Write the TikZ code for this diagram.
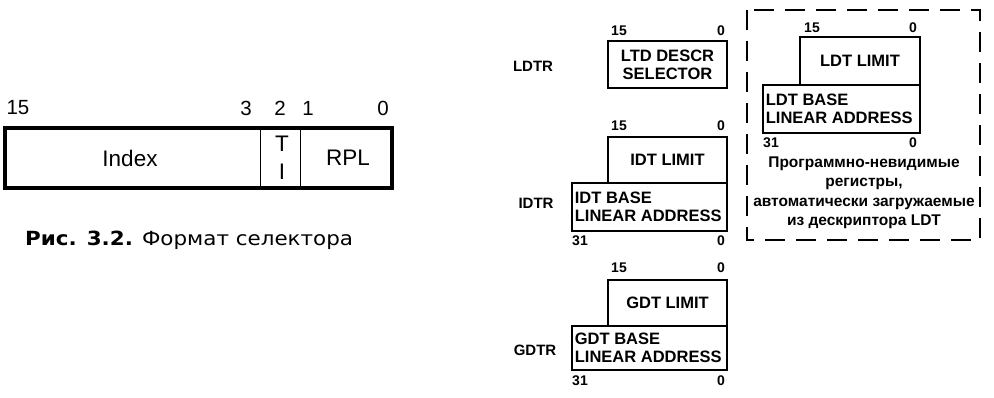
\documentclass[tikz,border=0pt]{standalone}
\usepackage{fontspec}
\setmainfont{Liberation Sans}
\newfontfamily\capfont[FakeStretch=1.1]{DejaVu Sans}
\begin{document}
\begin{tikzpicture}[x=1pt,y=-1pt,
  selbox/.style={draw, line width=3.5pt, inner sep=0pt, minimum width=387pt, minimum height=60pt},
  regbox/.style={draw, line width=2.6pt, inner sep=0pt},
  cell/.style={draw, line width=0.9pt},
  bignum/.style={font=\fontsize{20.5}{20.5}\selectfont, inner sep=0pt},
  bigtxt/.style={font=\fontsize{22.5}{22.5}\selectfont, inner sep=0pt},
  bitnum/.style={font=\fontsize{14}{14}\selectfont\bfseries, inner sep=0pt},
  regtxt/.style={font=\fontsize{16.5}{18}\selectfont\bfseries, align=center, inner sep=0pt},
  basetxt/.style={font=\fontsize{16.5}{17.5}\selectfont\bfseries, align=left, inner sep=0pt, anchor=west},
  reglabel/.style={font=\fontsize{15}{15}\selectfont\bfseries, inner sep=0pt},
  dashframe/.style={draw, line width=2.8pt, dash pattern=on 20pt off 11pt},
  note/.style={font=\fontsize{15.5}{19.5}\selectfont\bfseries, align=center, inner sep=0pt}]
\useasboundingbox (0,0) rectangle (994,397);

% ---------- selector format ----------
\node[selbox] (sel) at (198.5,158) {};
\draw[cell] ([xshift=257pt]sel.north west) -- ([xshift=257pt]sel.south west);
\draw[cell] ([xshift=297pt]sel.north west) -- ([xshift=297pt]sel.south west);
\node[bigtxt] (idx) at (130,158) {Index};
\node[bigtxt] (tt) at (282,144) {T};
\node[bigtxt] (ti) at (282,172) {I};
\node[bigtxt] (rpl) at (348,158) {RPL};
\node[bignum] (b15) at (18,108) {15};
\node[bignum] (b3) at (246,108) {3};
\node[bignum] (b2) at (280,108) {2};
\node[bignum] (b1) at (308,108) {1};
\node[bignum] (b0) at (383,108) {0};
\node[inner sep=0pt, anchor=west, font=\fontsize{19.5}{19.5}\selectfont\capfont] (cap) at (25,240)
  {{\bfseries Рис. 3.2.} Формат селектора};

% ---------- LDTR ----------
\node[reglabel] (ldtr) at (533,66) {LDTR};
\node[regbox, minimum width=119pt, minimum height=47pt, regtxt] (ldtrsel) at (667.5,64.5) {LTD DESCR\\SELECTOR};
\node[bitnum] (l15) at (619,31) {15};
\node[bitnum] (l0) at (721,31) {0};

% ---------- IDTR ----------
\node[reglabel] (idtr) at (536,203) {IDTR};
\node[regbox, minimum width=119pt, minimum height=46pt, regtxt] (idtlim) at (667.5,160) {IDT LIMIT};
\node[regbox, minimum width=155pt, minimum height=48pt] (idtbase) at (649.5,207) {};
\node[basetxt] (idtbt) at ([xshift=4pt]idtbase.west) {IDT BASE\\LINEAR ADDRESS};
\node[bitnum] (i15) at (619,126) {15};
\node[bitnum] (i0) at (721,126) {0};
\node[bitnum] (i31) at (580,241) {31};
\node[bitnum] (i0b) at (721,241) {0};

% ---------- GDTR ----------
\node[reglabel] (gdtr) at (535,350) {GDTR};
\node[regbox, minimum width=119pt, minimum height=46pt, regtxt] (gdtlim) at (667.5,303) {GDT LIMIT};
\node[regbox, minimum width=155pt, minimum height=44pt] (gdtbase) at (649.5,348) {};
\node[basetxt] (gdtbt) at ([xshift=4pt]gdtbase.west) {GDT BASE\\LINEAR ADDRESS};
\node[bitnum] (g15) at (619,268) {15};
\node[bitnum] (g0) at (721,268) {0};
\node[bitnum] (g31) at (580,381) {31};
\node[bitnum] (g0b) at (721,381) {0};

% ---------- LDT (invisible) ----------
\draw[dashframe] (747,10) rectangle (980,240);
\node[regbox, minimum width=120pt, minimum height=48pt, regtxt] (ldtlim) at (860,61) {LDT LIMIT};
\node[regbox, minimum width=157pt, minimum height=48pt] (ldtbase) at (841.5,109) {};
\node[basetxt] (ldtbt) at ([xshift=4pt]ldtbase.west) {LDT BASE\\LINEAR ADDRESS};
\node[bitnum] (d15) at (812,28) {15};
\node[bitnum] (d0) at (913,28) {0};
\node[bitnum] (d31) at (771,143) {31};
\node[bitnum] (d0b) at (913,143) {0};
\node[note] (nt) at (864,193) {Программно-невидимые\\регистры,\\автоматически загружаемые\\из дескриптора LDT};
\end{tikzpicture}
\end{document}
